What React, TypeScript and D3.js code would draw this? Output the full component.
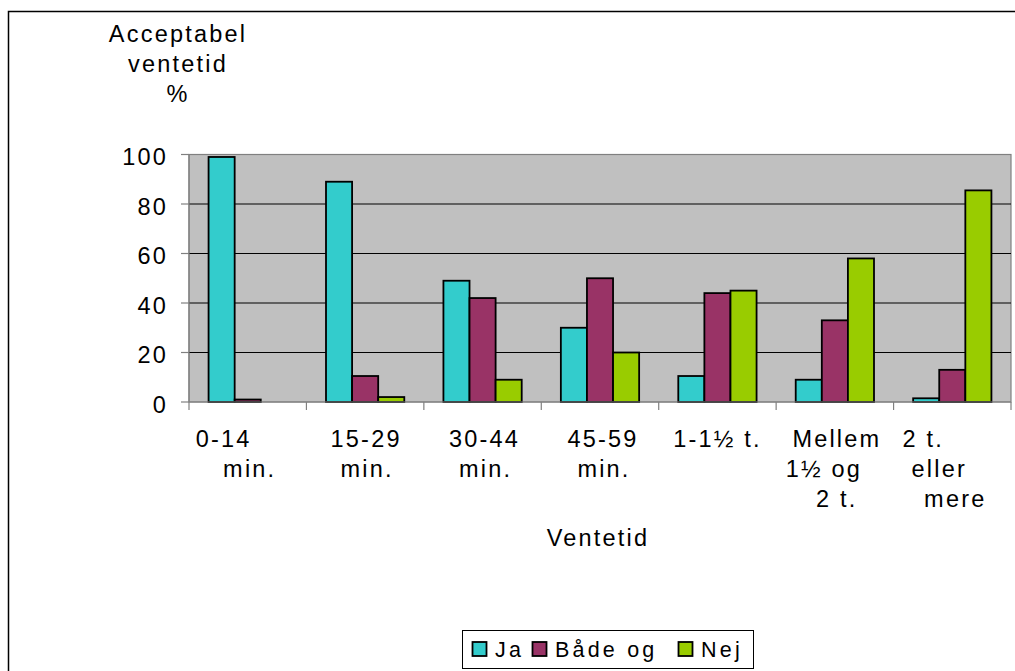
import React, { useEffect, useRef } from 'react';
import * as d3 from 'd3';

// Data
const categories = [
  ['0-14', 'min.'],
  ['15-29', 'min.'],
  ['30-44', 'min.'],
  ['45-59', 'min.'],
  ['1-1½ t.'],
  ['Mellem', '1½ og', '2 t.'],
  ['2 t.', 'eller', 'mere'],
];
const seriesNames = ['Ja', 'Både og', 'Nej'];
const ja = [99, 89, 49, 30, 10.5, 9, 1.5];
const baadeOg = [1, 10.5, 42, 50, 44, 33, 13];
const nej = [0, 2, 9, 20, 45, 58, 85.5];
const yTicks = [0, 20, 40, 60, 80, 100];

const colors = ['#33CCCC', '#993366', '#99CC00'];
// horizontal nudges of the wrapped category label lines (Excel wraps them oddly)
const labelShift = [
  [-25, 1],
  [0, 1],
  [1, 2],
  [2, 3],
  [-1],
  [1, -12, 1],
  [-30, -14, 2],
];

const FONT = '"Liberation Sans", Arial, sans-serif';

export default function App() {
  const ref = useRef<SVGSVGElement>(null);

  useEffect(() => {
    document.body.style.margin = '0';
    if (!ref.current) return;
    const svg = d3.select(ref.current);
    svg.selectAll('*').remove();

    const left = 189, right = 1011, top = 154.5, bottom = 402;
    const series = [ja, baadeOg, nej];

    // outer frame
    svg.append('rect')
      .attr('x', 8.5).attr('y', 11.5)
      .attr('width', 1020).attr('height', 700)
      .attr('fill', 'white').attr('stroke', 'black').attr('stroke-width', 1.5);

    const x = d3.scaleBand<number>()
      .domain(d3.range(categories.length))
      .range([left, right]);
    const xs = d3.scaleBand<number>()
      .domain(d3.range(series.length))
      .range([0, x.bandwidth()])
      .paddingOuter(0.75);
    const y = d3.scaleLinear().domain([0, 100]).range([bottom, top]);

    // plot area
    svg.append('rect')
      .attr('x', left).attr('y', top)
      .attr('width', right - left).attr('height', bottom - top)
      .attr('fill', '#C0C0C0').attr('stroke', '#808080').attr('stroke-width', 1.2);

    svg.selectAll('.grid')
      .data(yTicks.filter(t => t > 0 && t < 100))
      .enter().append('line')
      .attr('x1', left).attr('x2', right)
      .attr('y1', d => y(d)).attr('y2', d => y(d))
      .attr('stroke', 'black').attr('stroke-width', 1);

    // bars
    series.forEach((vals, si) => {
      svg.selectAll(`.bar${si}`)
        .data(vals.map((v, i) => ({ v, i })).filter(d => d.v > 0))
        .enter().append('rect')
        .attr('x', d => (x(d.i) as number) + (xs(si) as number))
        .attr('y', d => y(d.v))
        .attr('width', xs.bandwidth())
        .attr('height', d => y(0) - y(d.v))
        .attr('fill', colors[si])
        .attr('stroke', 'black').attr('stroke-width', 1.8);
    });

    // axes
    const ax = svg.append('g').attr('stroke', '#808080').attr('stroke-width', 1.2);
    ax.append('line').attr('x1', left).attr('x2', left).attr('y1', top).attr('y2', bottom);
    ax.append('line').attr('x1', left).attr('x2', right).attr('y1', bottom).attr('y2', bottom);
    ax.selectAll('.yt').data(yTicks).enter().append('line')
      .attr('x1', left - 8).attr('x2', left)
      .attr('y1', d => y(d)).attr('y2', d => y(d));
    const bounds = d3.range(categories.length + 1).map(i =>
      i < categories.length ? (x(i) as number) : right);
    ax.selectAll('.xt').data(bounds).enter().append('line')
      .attr('x1', d => d).attr('x2', d => d)
      .attr('y1', bottom).attr('y2', bottom + 8);

    const txt = (sel: any, size = 23.5, spacing = 2.2) =>
      sel.attr('font-family', FONT).attr('font-size', size)
        .attr('letter-spacing', spacing).attr('fill', 'black');

    // y tick labels
    txt(svg.selectAll('.yl').data(yTicks).enter().append('text'))
      .attr('x', 168).attr('y', (d: number) => y(d) + 10.5)
      .attr('text-anchor', 'end')
      .text((d: number) => d);

    // x category labels
    categories.forEach((lines, i) => {
      const cx = (x(i) as number) + x.bandwidth() / 2;
      lines.forEach((ln, li) => {
        txt(svg.append('text'))
          .attr('x', cx + labelShift[i][li] + 1)
          .attr('y', 446.7 + li * 30.3)
          .attr('text-anchor', 'middle')
          .text(ln);
      });
    });

    // axis titles
    ['Acceptabel', 'ventetid', '%'].forEach((t, i) => {
      txt(svg.append('text'))
        .attr('x', 178).attr('y', 42 + i * 30)
        .attr('text-anchor', 'middle').text(t);
    });
    txt(svg.append('text'))
      .attr('x', 598).attr('y', 546)
      .attr('text-anchor', 'middle').text('Ventetid');

    // legend
    const lg = svg.append('g');
    lg.append('rect')
      .attr('x', 462.5).attr('y', 630.5).attr('width', 291).attr('height', 38)
      .attr('fill', 'white').attr('stroke', 'black').attr('stroke-width', 1);
    const itemX = [472.5, 532.5, 678.5];
    seriesNames.forEach((name, si) => {
      lg.append('rect')
        .attr('x', itemX[si]).attr('y', 642).attr('width', 14).attr('height', 14)
        .attr('fill', colors[si]).attr('stroke', 'black').attr('stroke-width', 1.8);
      txt(lg.append('text'), 21.5, 3.2)
        .attr('x', itemX[si] + 22.5).attr('y', 657)
        .text(name);
    });
  }, []);

  return <svg ref={ref} width={1015} height={671} style={{ display: 'block' }} />;
}
